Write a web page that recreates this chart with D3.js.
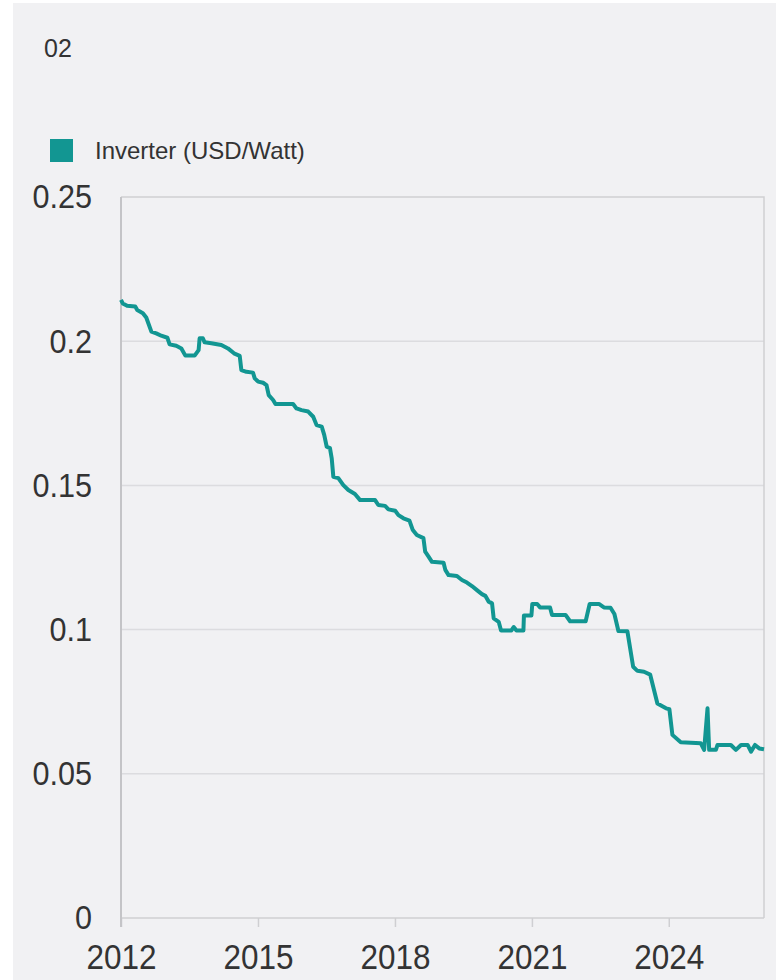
<!DOCTYPE html>
<html>
<head>
<meta charset="utf-8">
<script src="https://cdn.jsdelivr.net/npm/d3@7"></script>
<style>
  body { margin: 0; background: #fff; }
  text { font-family: "Liberation Sans", Arial, sans-serif; fill: #333; }
</style>
</head>
<body>
<div id="chart"></div>
<script>
// Inverter price series (USD/Watt)
const dates = [
  "2012-01-01","2012-01-15","2012-02-19","2012-04-24","2012-05-10","2012-06-24","2012-07-21","2012-08-31","2012-10-09","2012-11-18",
  "2013-01-06","2013-01-24","2013-03-18","2013-04-28","2013-05-30","2013-08-12","2013-09-13","2013-09-21","2013-10-17","2013-10-31",
  "2013-12-24","2014-03-14","2014-05-06","2014-06-23","2014-08-08","2014-08-21","2014-10-01","2014-11-22","2014-12-06","2015-01-02",
  "2015-02-11","2015-03-10","2015-03-28","2015-05-02","2015-05-21","2015-10-09","2015-11-05","2015-12-16","2016-02-07","2016-03-18",
  "2016-04-14","2016-05-25","2016-06-14","2016-07-04","2016-07-30","2016-08-13","2016-08-26","2016-10-05","2016-11-14","2016-12-24",
  "2017-02-15","2017-03-28","2017-07-26","2017-08-21","2017-10-14","2017-11-10","2018-01-03","2018-01-29","2018-03-10","2018-04-27",
  "2018-05-24","2018-06-25","2018-08-17","2018-08-31","2018-09-27","2018-10-24","2019-01-25","2019-02-08","2019-03-06","2019-05-12",
  "2019-06-21","2019-07-31","2019-09-09","2019-10-19","2019-11-28","2019-12-25","2020-01-21","2020-02-17","2020-03-01","2020-04-10",
  "2020-04-29","2020-07-21","2020-08-08","2020-08-30","2020-10-25","2020-10-29","2020-12-28","2021-01-04","2021-02-12","2021-03-07",
  "2021-05-26","2021-06-11","2021-09-27","2021-11-02","2022-03-07","2022-04-08","2022-06-21","2022-07-31","2022-09-22","2022-10-23",
  "2022-11-24","2023-02-04","2023-03-22","2023-04-25","2023-06-17","2023-08-05","2023-10-02","2023-12-10","2024-01-06","2024-01-30",
  "2024-04-06","2024-09-13","2024-10-10","2024-11-06","2024-11-19","2025-01-12","2025-01-25","2025-05-12","2025-06-21","2025-08-01",
  "2025-09-23","2025-10-20","2025-11-21","2025-12-25","2026-02-01"
];
const prices = [
  0.2143,0.2131,0.2123,0.2120,0.2108,0.2097,0.2082,0.2033,0.2027,0.2019,
  0.2012,0.1989,0.1984,0.1975,0.1950,0.1950,0.1969,0.2010,0.2010,0.1996,
  0.1993,0.1987,0.1975,0.1958,0.1949,0.1900,0.1894,0.1891,0.1871,0.1860,
  0.1856,0.1848,0.1813,0.1796,0.1782,0.1782,0.1767,0.1761,0.1756,0.1738,
  0.1709,0.1704,0.1675,0.1634,0.1629,0.1594,0.1530,0.1525,0.1501,0.1484,
  0.1470,0.1449,0.1449,0.1432,0.1429,0.1417,0.1412,0.1397,0.1386,0.1378,
  0.1345,0.1328,0.1317,0.1270,0.1253,0.1235,0.1232,0.1207,0.1189,0.1186,
  0.1172,0.1163,0.1151,0.1137,0.1123,0.1117,0.1097,0.1091,0.1039,0.1027,
  0.0997,0.0997,0.1009,0.0997,0.0997,0.1049,0.1049,0.1089,0.1089,0.1077,
  0.1077,0.1051,0.1051,0.1029,0.1029,0.1089,0.1089,0.1077,0.1076,0.1054,
  0.0995,0.0994,0.0871,0.0857,0.0854,0.0844,0.0744,0.0727,0.0724,0.0635,
  0.0609,0.0606,0.0583,0.0727,0.0583,0.0583,0.0600,0.0600,0.0583,0.0600,
  0.0600,0.0577,0.0600,0.0588,0.0585
];
const yTicks = [0, 0.05, 0.1, 0.15, 0.2, 0.25];
const yTickLabels = ["0", "0.05", "0.1", "0.15", "0.2", "0.25"];
const xTickYears = [2012, 2015, 2018, 2021, 2024];
const seriesName = "Inverter (USD/Watt)";
const chartNumber = "02";

const width = 776, height = 980;
const margin = { left: 121, right: 12, top: 197, bottom: 62 };
const color = "#129692";
const squeeze = 0.9; // tick labels are slightly condensed in the original

const parse = d3.timeParse("%Y-%m-%d");
const data = dates.map((d, i) => ({ date: parse(d), value: prices[i] }));

const svg = d3.select("#chart").append("svg")
  .attr("width", width)
  .attr("height", height);

// panel background
svg.append("rect")
  .attr("x", 13).attr("y", 3)
  .attr("width", width - 13).attr("height", height - 3)
  .attr("fill", "#f1f1f3");

const x = d3.scaleTime()
  .domain([parse("2012-01-01"), parse("2026-02-01")])
  .range([margin.left, width - margin.right]);
const y = d3.scaleLinear()
  .domain([0, 0.25])
  .range([height - margin.bottom, margin.top]);

// gridlines
svg.append("g")
  .selectAll("line")
  .data(yTicks.slice(1, -1))
  .enter().append("line")
  .attr("x1", margin.left).attr("x2", width - margin.right)
  .attr("y1", d => y(d)).attr("y2", d => y(d))
  .attr("stroke", "#dcdcdf")
  .attr("stroke-width", 1.5);

// frame: top and right
svg.append("path")
  .attr("d", `M${margin.left},${y(0.25)}H${width - margin.right}V${y(0)}`)
  .attr("fill", "none")
  .attr("stroke", "#cfcfd2")
  .attr("stroke-width", 1.5);

// x axis
const xAxis = svg.append("g")
  .attr("transform", `translate(0,${y(0)})`)
  .call(d3.axisBottom(x)
    .tickValues(xTickYears.map(yr => new Date(yr, 0, 1)))
    .tickFormat(d3.timeFormat("%Y"))
    .tickSize(9)
    .tickPadding(17));
xAxis.select(".domain").attr("stroke", "#cfcfd2").attr("stroke-width", 1.5)
  .attr("d", `M${margin.left},0H${width - margin.right}`);
xAxis.selectAll(".tick line").attr("stroke", "#cfcfd2").attr("stroke-width", 1.5);
xAxis.selectAll(".tick text")
  .attr("font-family", "Liberation Sans, Arial, sans-serif")
  .attr("font-size", 35)
  .attr("fill", "#333")
  .attr("dy", "0.71em")
  .attr("transform", `scale(${squeeze},1)`);

// y axis
const yAxis = svg.append("g")
  .attr("transform", `translate(${margin.left},0)`)
  .call(d3.axisLeft(y)
    .tickValues(yTicks)
    .tickFormat((d, i) => yTickLabels[i])
    .tickSize(0)
    .tickPadding(29));
yAxis.select(".domain").attr("stroke", "#c4c4c7").attr("stroke-width", 2)
  .attr("d", `M0,${y(0.25)}V${y(0) + 9}`);
yAxis.selectAll(".tick text")
  .attr("font-family", "Liberation Sans, Arial, sans-serif")
  .attr("font-size", 34)
  .attr("fill", "#333")
  .attr("x", -29 / squeeze)
  .attr("transform", `scale(${squeeze},1)`);

// series line
const line = d3.line()
  .x(d => x(d.date))
  .y(d => y(d.value));
svg.append("path")
  .datum(data)
  .attr("d", line)
  .attr("fill", "none")
  .attr("stroke", color)
  .attr("stroke-width", 4)
  .attr("stroke-linejoin", "round");

// chart number
svg.append("text")
  .attr("x", 44).attr("y", 57)
  .attr("font-size", 25)
  .text(chartNumber);

// legend
svg.append("rect")
  .attr("x", 50).attr("y", 139)
  .attr("width", 23).attr("height", 23)
  .attr("fill", color);
svg.append("text")
  .attr("x", 95).attr("y", 159)
  .attr("font-size", 24)
  .text(seriesName);
</script>
</body>
</html>
